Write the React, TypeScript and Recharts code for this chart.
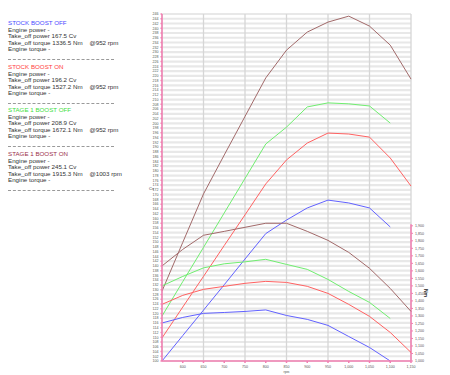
import React from 'react';
import {
  CartesianGrid,
  Line,
  LineChart,
  ReferenceLine,
  XAxis,
  YAxis,
} from 'recharts';

const rpm = [550, 600, 650, 700, 750, 800, 850, 900, 950, 1000, 1050, 1100, 1150];

// power, Cv
const stockOffPower = [100, 110.7, 121.4, 132.1, 142.9, 153.6, 159.3, 164.4, 167.7, 166.5, 164.4, 156.4, null];
const stockOnPower = [109.7, 122.7, 135.6, 148.6, 161.5, 174.5, 184.6, 191.7, 195.9, 195.5, 194.2, 185.4, 173.6];
const stage1OffPower = [118.9, 133.4, 147.8, 162.3, 176.8, 191.3, 198.4, 206.9, 208.6, 208.2, 207.3, 200.1, null];
const stage1OnPower = [129.4, 149.9, 170.3, 186.7, 202.9, 219.1, 230.8, 238.4, 242.6, 245.1, 240.9, 232.9, 218.6];

// torque, Nm
const stockOffTorque = [1253, 1290, 1317, 1323, 1330, 1340, 1303, 1277, 1237, 1163, 1090, 1000, null];
const stockOnTorque = [1377, 1437, 1477, 1497, 1517, 1530, 1523, 1497, 1450, 1377, 1297, 1190, 1057];
const stage1OffTorque = [1500, 1563, 1620, 1647, 1660, 1677, 1643, 1610, 1543, 1463, 1390, 1283, null];
const stage1OnTorque = [1633, 1743, 1837, 1863, 1890, 1917, 1917, 1863, 1803, 1723, 1617, 1483, 1330];

const rpmTicks = [600, 650, 700, 750, 800, 850, 900, 950, 1000, 1050, 1100, 1150];
const powerTicks = Array.from({ length: 74 }, (_, i) => 100 + i * 2);
const torqueTicks = [1000, 1050, 1100, 1150, 1200, 1250, 1300, 1350, 1400, 1450, 1500, 1550, 1600, 1650, 1700, 1750, 1800, 1850, 1900];

const titles = ['STOCK BOOST OFF', 'STOCK BOOST ON', 'STAGE 1 BOOST OFF', 'STAGE 1 BOOST ON'];
const takeOffPower = ['167.5', '196.2', '208.9', '245.1'];
const takeOffTorque = ['1336.5', '1527.2', '1672.1', '1915.3'];
const takeOffRpm = ['952', '952', '952', '1003'];
const colors = ['#6262ff', '#ff6262', '#70ee70', '#a26a6a'];
const titleColors = ['#4a4aff', '#ff3c3c', '#3ede3e', '#9c2f4a'];

const data = rpm.map((r, i) => ({
  rpm: r,
  p0: stockOffPower[i],
  p1: stockOnPower[i],
  p2: stage1OffPower[i],
  p3: stage1OnPower[i],
  t0: stockOffTorque[i],
  t1: stockOnTorque[i],
  t2: stage1OffTorque[i],
  t3: stage1OnTorque[i],
}));

const axisPink = '#f27fb2';
const font = '"Liberation Sans", Arial, sans-serif';

function InfoPanel() {
  const tops = [20, 64, 107, 151];
  return (
    <>
      {titles.map((t, i) => (
        <div
          key={t}
          style={{
            position: 'absolute',
            left: 8,
            top: tops[i],
            fontFamily: font,
            fontSize: 6.2,
            lineHeight: '6.5px',
            color: '#333',
            whiteSpace: 'pre',
          }}
        >
          <div style={{ color: titleColors[i] }}>{t}</div>
          <div>Engine power -</div>
          <div>Take_off power {takeOffPower[i]} Cv</div>
          <div>
            Take_off torque {takeOffTorque[i]} Nm{'    '}@{takeOffRpm[i]} rpm
          </div>
          <div>Engine torque -</div>
          <div
            style={{
              marginTop: 6,
              width: 106,
              borderTop: '1px dashed #9a9a9a',
            }}
          />
        </div>
      ))}
    </>
  );
}

export default function App() {
  const tickStyle = { fontSize: 3.6, fill: '#555', fontFamily: font };
  return (
    <div style={{ position: 'absolute', left: 0, top: 0, width: 450, height: 375, background: '#fff' }}>
      <InfoPanel />
      <div style={{ position: 'absolute', left: 0, top: 0 }}>
        <LineChart
          width={450}
          height={375}
          data={data}
          margin={{ top: 14, right: 9, left: 150, bottom: 2 }}
        >
          <CartesianGrid
            yAxisId="power"
            stroke="#e8e8e8"
            strokeWidth={2.2}
            vertical={false}
          />
          <CartesianGrid
            yAxisId="power"
            stroke="#d6d6d6"
            strokeWidth={1.3}
            horizontal={false}
          />
          <XAxis
            dataKey="rpm"
            type="number"
            domain={[550, 1150]}
            ticks={rpmTicks}
            height={12}
            tick={tickStyle}
            tickSize={2}
            tickFormatter={(v: number) => v.toLocaleString('en-US')}
            stroke={axisPink}
            strokeWidth={1.5}
            label={{ value: 'rpm', position: 'insideBottom', offset: 0, fontSize: 3.6, fill: '#555' }}
          />
          <YAxis
            yAxisId="power"
            domain={[100, 246]}
            ticks={powerTicks}
            interval={0}
            width={12}
            tick={tickStyle}
            tickSize={1.5}
            stroke={axisPink}
            strokeWidth={1.5}
            allowDataOverflow
          />
          <YAxis
            yAxisId="torque"
            orientation="right"
            domain={[1000, 3310]}
            ticks={torqueTicks}
            interval={0}
            width={30}
            tick={tickStyle}
            tickSize={2}
            axisLine={false}
            stroke={axisPink}
            tickFormatter={(v: number) => v.toLocaleString('en-US')}
            allowDataOverflow
          />
          <ReferenceLine
            yAxisId="torque"
            segment={[
              { x: 1150, y: 1000 },
              { x: 1150, y: 1910 },
            ]}
            stroke={axisPink}
            strokeWidth={1.5}
          />
          {['p0', 'p1', 'p2', 'p3'].map((k, i) => (
            <Line
              key={k}
              yAxisId="power"
              dataKey={k}
              stroke={colors[i]}
              strokeWidth={1}
              dot={false}
              isAnimationActive={false}
            />
          ))}
          {['t0', 't1', 't2', 't3'].map((k, i) => (
            <Line
              key={k}
              yAxisId="torque"
              dataKey={k}
              stroke={colors[i]}
              strokeWidth={1}
              dot={false}
              isAnimationActive={false}
            />
          ))}
        </LineChart>
      </div>
      <div style={{ position: 'absolute', left: 149, top: 186, fontFamily: font, fontSize: 4, color: '#333' }}>Cv</div>
      <div
        style={{
          position: 'absolute',
          left: 422,
          top: 290,
          fontFamily: font,
          fontSize: 5,
          fontWeight: 'bold',
          color: '#222',
          transform: 'rotate(90deg)',
        }}
      >
        Nm
      </div>
    </div>
  );
}
